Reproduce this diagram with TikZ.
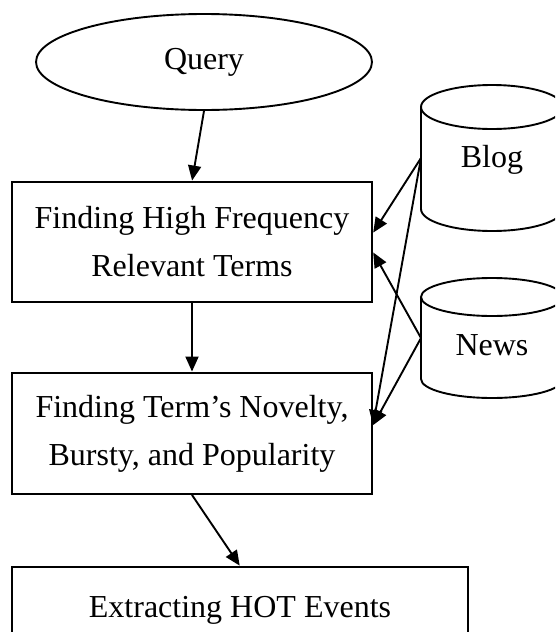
\documentclass[tikz,border=0pt]{standalone}
\usepackage{fontspec}
\setmainfont{Liberation Serif}
\usetikzlibrary{arrows.meta,shapes.geometric}

\tikzset{
  stroke/.style={line width=1.9pt, draw=black},
  procbox/.style={stroke, rectangle, inner sep=0pt, align=center,
    font=\fontsize{32pt}{48pt}\selectfont},
  querynode/.style={stroke, ellipse, inner sep=0pt,
    minimum width=336pt, minimum height=96pt,
    font=\fontsize{32pt}{48pt}\selectfont},
  dblabel/.style={inner sep=0pt, font=\fontsize{32pt}{48pt}\selectfont},
  flow/.style={line width=1.9pt, -{Triangle[length=15pt,width=13pt]}, shorten >=0.5pt}
}

\begin{document}
\begin{tikzpicture}[x=1pt, y=-1pt]
  \useasboundingbox (0,0) rectangle (555,632);
  \clip (0,0) rectangle (555,632);
  \fill[white] (0,0) rectangle (555,632);

  % query and processing steps
  \node[querynode] (query) at (204,62) {Query};
  \node[procbox, minimum width=360pt, minimum height=120pt] (high) at (192,242)
    {Finding High Frequency\\Relevant Terms};
  \node[procbox, minimum width=360pt, minimum height=121pt] (novel) at (192,433.5)
    {Finding Term’s Novelty,\\Bursty, and Popularity};
  \node[procbox, minimum width=456pt, minimum height=86pt] (hot) at (240,610)
    {Extracting HOT Events};

  % data stores drawn as cylinders
  \draw[stroke, fill=white] (421,107) -- (421,209)
    arc[start angle=180, end angle=360, x radius=71pt, y radius=22pt]
    -- (563,107);
  \draw[stroke] (492,107) ellipse [x radius=71pt, y radius=22pt];
  \node[dblabel] (blog) at (492,160) {Blog};
  \coordinate (blogW) at (421,158);

  \draw[stroke, fill=white] (421,297) -- (421,379)
    arc[start angle=180, end angle=360, x radius=71pt, y radius=19pt]
    -- (563,297);
  \draw[stroke] (492,297) ellipse [x radius=71pt, y radius=19pt];
  \node[dblabel] (news) at (492,345) {News};
  \coordinate (newsW) at (421,338);

  % main flow
  \draw[flow] (query.south) -- (high.north);
  \draw[flow] (high.south) -- (novel.north);
  \draw[flow] (novel.south) -- (hot.north);

  % data feeding both steps
  \draw[flow] (blogW) -- ([yshift=9pt]high.east);
  \draw[flow] (newsW) -- ([yshift=-10pt]high.east);
  \draw[flow] (blogW) -- ([yshift=8pt]novel.east);
  \draw[flow] (newsW) -- ([yshift=8pt]novel.east);
\end{tikzpicture}
\end{document}
